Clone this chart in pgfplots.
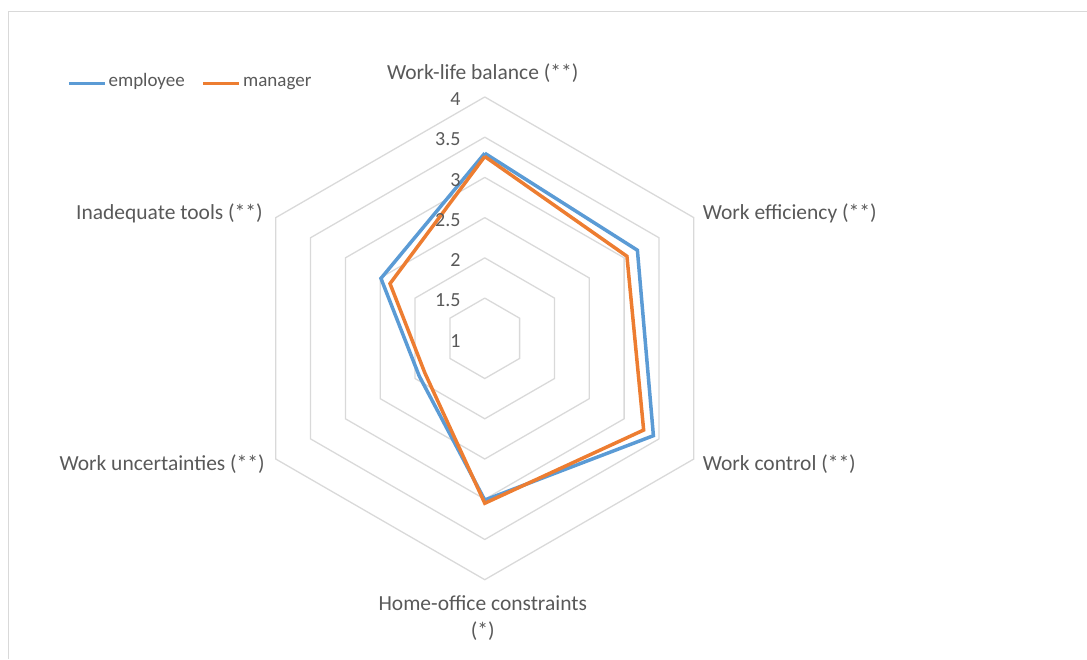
\documentclass[border=0pt]{standalone}
\usepackage{fontspec}
\setmainfont{Carlito}
\usepackage{pgfplots}
\usepackage{pgfplotstable}
\pgfplotsset{compat=1.18}
\definecolor{emp}{HTML}{5B9BD5}
\definecolor{mgr}{HTML}{ED7D31}
\definecolor{gridc}{HTML}{D9D9D9}
\definecolor{txt}{HTML}{595959}

% angle (deg), employee, manager  (scale 1..4, centre = 1)
\pgfplotstableread{
ang emp mgr
90 3.30 3.26
30 3.19 3.04
-30 3.42 3.28
-90 3.01 3.05
-150 1.94 1.86
150 2.49 2.36
90 3.30 3.26
}\radar

\begin{document}
\begin{tikzpicture}
\begin{axis}[
  width=1087pt, height=659pt, scale only axis,
  xmin=-6.0248, xmax=7.4783, ymin=-3.9814, ymax=4.2050,
  hide axis, clip=false,
  legend style={at={(axis cs:-5.23,3.165)}, anchor=west, draw=none, fill=none,
    font=\fontsize{19}{22}\selectfont\color{txt}, legend columns=2,
    /tikz/every even column/.append style={column sep=15pt},
    nodes={inner sep=2pt, text height=0.72em, text depth=0.22em}},
  legend image code/.code={\draw[#1] (0pt,0pt) -- (36pt,0pt);},
]
\path (rel axis cs:0,0) rectangle (rel axis cs:1,1);
\draw[gridc, line width=1pt] (axis cs:-5.919,-3.9814) -- (axis cs:-5.919,4.062) -- (axis cs:7.4783,4.062);

\pgfplotsinvokeforeach{1.5,2,2.5,3,3.5,4}{
  \addplot[gridc, line width=1.3pt, forget plot, line join=miter]
    table[x expr={(#1-1)*cos(\thisrow{ang})}, y expr={(#1-1)*sin(\thisrow{ang})}]{\radar};
}

\addplot[emp, line width=3.5pt, line join=miter]
  table[x expr={(\thisrow{emp}-1)*cos(\thisrow{ang})}, y expr={(\thisrow{emp}-1)*sin(\thisrow{ang})}]{\radar};
\addlegendentry{employee}
\addplot[mgr, line width=3.5pt, line join=miter]
  table[x expr={(\thisrow{mgr}-1)*cos(\thisrow{ang})}, y expr={(\thisrow{mgr}-1)*sin(\thisrow{ang})}]{\radar};
\addlegendentry{manager}

\pgfplotsinvokeforeach{1,1.5,2,2.5,3,3.5,4}{
  \node[anchor=east, font=\fontsize{20}{24}\selectfont, text=txt, inner sep=0pt] at (axis cs:-0.30,{#1-1-0.03}) {#1};
}
\begin{scope}[every node/.style={font=\fontsize{21.5}{27}\selectfont, text=txt, inner sep=0pt}]
\node[anchor=center] at (axis cs:-0.025,3.30) {Work-life balance (**)};
\node[anchor=west] at (axis cs:2.708,1.559) {Work efficiency (**)};
\node[anchor=west] at (axis cs:2.708,-1.559) {Work control (**)};
\node[anchor=center, align=center] at (axis cs:-0.025,-3.472) {Home-office constraints\\(*)};
\node[anchor=east] at (axis cs:-2.733,-1.559) {Work uncertainties (**)};
\node[anchor=east] at (axis cs:-2.758,1.559) {Inadequate tools (**)};
\end{scope}
\end{axis}
\end{tikzpicture}
\end{document}
